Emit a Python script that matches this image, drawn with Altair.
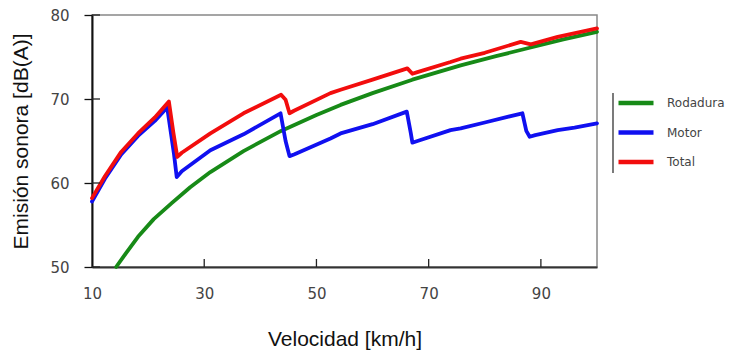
import altair as alt
import pandas as pd

# ---- data ----
series_names = ["Rodadura", "Motor", "Total"]
series_colors = ["#178a17", "#1010f0", "#f20d0d"]

rod_v = [14.3, 16.0, 18.2, 21.0, 24.2, 27.5, 31.1, 37.0, 43.7, 50.0, 54.3, 60.0, 67.1, 75.7, 82.0, 88.0, 94.0, 100.0]
rod_l = [50.0, 51.6, 53.6, 55.7, 57.6, 59.5, 61.3, 63.8, 66.2, 68.1, 69.3, 70.7, 72.3, 74.0, 75.1, 76.1, 77.1, 78.0]

mot_v = [10.0, 12.3, 15.2, 18.2, 21.2, 23.4, 24.6, 25.1, 26.0, 31.1, 37.0, 43.6, 44.5, 45.2, 46.0, 52.5, 54.3, 60.0, 66.1, 66.8, 67.1, 68.0, 73.9, 75.7, 80.0, 86.7, 87.4, 88.0, 89.0, 93.0, 96.0, 100.0]
mot_l = [57.8, 60.5, 63.4, 65.6, 67.4, 69.0, 63.5, 60.7, 61.4, 63.9, 65.8, 68.3, 65.0, 63.2, 63.4, 65.3, 65.9, 67.0, 68.5, 66.0, 64.8, 65.0, 66.3, 66.5, 67.2, 68.3, 66.2, 65.5, 65.7, 66.3, 66.6, 67.1]

tot_v = [10.0, 12.3, 15.2, 18.2, 21.2, 23.7, 24.5, 25.2, 26.0, 31.1, 37.0, 43.7, 44.5, 45.2, 46.0, 52.5, 54.3, 60.0, 66.2, 67.1, 68.0, 73.9, 75.7, 80.0, 86.4, 88.2, 93.0, 100.0]
tot_l = [58.2, 60.8, 63.7, 65.9, 67.8, 69.7, 66.0, 63.1, 63.6, 65.9, 68.3, 70.5, 69.9, 68.3, 68.6, 70.7, 71.1, 72.3, 73.65, 73.0, 73.2, 74.4, 74.8, 75.5, 76.8, 76.5, 77.4, 78.4]

x_ticks = [10, 30, 50, 70, 90]
y_ticks = [50, 60, 70, 80]

W, H = 505, 252

frames = []
for name, vs, ls in [("Rodadura", rod_v, rod_l), ("Motor", mot_v, mot_l), ("Total", tot_v, tot_l)]:
    frames.append(pd.DataFrame({"v": vs, "L": ls, "serie": name}))
df = pd.concat(frames, ignore_index=True)

xscale = alt.Scale(domain=[10, 100], nice=False, zero=False)
yscale = alt.Scale(domain=[50, 80], nice=False, zero=False)
cscale = alt.Scale(domain=series_names, range=series_colors)

xaxis = alt.Axis(values=x_ticks, ticks=False, grid=False, labelPadding=19, titlePadding=27,
                 labelFlush=False, labelOverlap=False,
                 domainColor="#333", domainWidth=2,
                 labelFont="DejaVu Sans", labelFontSize=15, labelColor="#444",
                 titleFont="Liberation Sans", titleFontSize=21, titleFontWeight="normal",
                 titleColor="#111")
yaxis = alt.Axis(values=y_ticks, tickSize=8, tickColor="#111", tickWidth=1.3, grid=False,
                 labelFlush=False, labelOverlap=False,
                 labelPadding=15, titlePadding=18, domainColor="#111", domainWidth=2,
                 labelFont="DejaVu Sans", labelFontSize=15, labelColor="#444",
                 titleFont="Liberation Sans", titleFontSize=21, titleFontWeight="normal",
                 titleColor="#111")

legend = alt.Legend(title=None, orient="none", legendX=524, legendY=80, symbolType="stroke",
                    symbolSize=1225, symbolStrokeWidth=4.5, clipHeight=16, rowPadding=13.5,
                    labelOffset=11, labelFont="DejaVu Sans",
                    labelFontSize=12, labelColor="#444", padding=0)

X = alt.X("v:Q", scale=xscale, title="Velocidad [km/h]", axis=xaxis)
Y = alt.Y("L:Q", scale=yscale, title="Emisión sonora [dB(A)]", axis=yaxis)

layers = [
    alt.Chart(df).transform_filter(alt.datum.serie == name)
    .mark_line(strokeWidth=3.8, strokeJoin="round", strokeCap="round")
    .encode(x=X, y=Y, color=alt.Color("serie:N", scale=cscale, legend=legend))
    for name in series_names
]

# inward ticks on the bottom axis
xt = alt.Chart(pd.DataFrame({"v": x_ticks[1:]})).mark_rule(color="#222", strokeWidth=1.3).encode(
    x=X, y=alt.value(H), y2=alt.value(H - 8))
# inward ticks on the left axis
yt = alt.Chart(pd.DataFrame({"L": y_ticks})).mark_rule(color="#222", strokeWidth=1.3).encode(
    y=Y, x=alt.value(0), x2=alt.value(8))
# vertical line beside the legend
lg = alt.Chart(pd.DataFrame({"a": [0]})).mark_rule(color="#333", strokeWidth=1.3).encode(
    x=alt.value(521), y=alt.value(78), y2=alt.value(158))

chart = alt.layer(*layers, xt, yt, lg).properties(
    width=W, height=H,
    autosize=alt.AutoSizeParams(type="none"),
    padding={"left": 84, "top": 7, "right": 129, "bottom": 85},
    background="white",
).configure_view(stroke="#888", strokeWidth=1.5)

chart.save("out.html", embed_options={"renderer": "svg", "actions": False})
